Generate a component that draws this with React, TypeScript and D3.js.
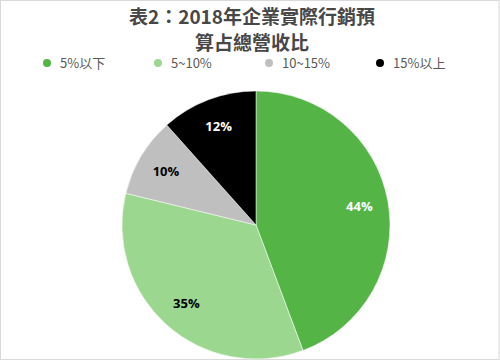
import React, { useEffect, useRef } from 'react';
import * as d3 from 'd3';

const categories = ['5%以下', '5~10%', '10~15%', '15%以上'];
const shares = [44.3, 34.5, 9.6, 11.6];
const labels = ['44%', '35%', '10%', '12%'];
const colors = ['#54b445', '#9cd78f', '#bfbfbf', '#000000'];
const labelColors = ['#ffffff', '#000000', '#000000', '#ffffff'];
const titleLines = ['表2：2018年企業實際行銷預', '算占總營收比'];

const App: React.FC = () => {
  const svgRef = useRef<SVGSVGElement>(null);

  useEffect(() => {
    if (!svgRef.current) return;
    const svg = d3.select(svgRef.current);
    svg.selectAll('*').remove();

    const width = 500;
    const height = 362;
    const cx = 256;
    const cy = 225;
    const radius = 134;
    const font = '"Noto Sans CJK TC", "Noto Sans", sans-serif';

    svg.append('rect')
      .attr('width', width)
      .attr('height', height)
      .attr('fill', '#ffffff');

    svg.append('rect')
      .attr('x', 0.5)
      .attr('y', 0.5)
      .attr('width', width - 1.5)
      .attr('height', 359)
      .attr('fill', 'none')
      .attr('stroke', '#d9d9d9');

    // Title
    svg.selectAll('text.title')
      .data(titleLines)
      .enter()
      .append('text')
      .attr('class', 'title')
      .attr('x', 252)
      .attr('y', (_, i) => 24 + i * 26)
      .attr('text-anchor', 'middle')
      .attr('font-family', font)
      .attr('font-weight', 'bold')
      .attr('font-size', 19)
      .attr('fill', '#474747')
      .text(d => d);

    // Legend
    const legendX = d3.scalePoint<string>()
      .domain(categories)
      .range([47, 380]);

    const legend = svg.selectAll('g.legend')
      .data(categories)
      .enter()
      .append('g')
      .attr('class', 'legend')
      .attr('transform', d => `translate(${legendX(d)},63)`);

    legend.append('circle')
      .attr('r', 4)
      .attr('fill', (_, i) => colors[i]);

    legend.append('text')
      .attr('x', 13)
      .attr('dy', '0.36em')
      .attr('font-family', font)
      .attr('font-size', 13)
      .attr('fill', '#595959')
      .text(d => d);

    // Pie
    const pie = d3.pie<number>().sort(null).value(d => d);
    const arcs = pie(shares);
    const arc = d3.arc<d3.PieArcDatum<number>>().innerRadius(0).outerRadius(radius);
    const labelArc = d3.arc<d3.PieArcDatum<number>>().innerRadius(105).outerRadius(105);

    const g = svg.append('g').attr('transform', `translate(${cx},${cy})`);

    g.selectAll('path')
      .data(arcs)
      .enter()
      .append('path')
      .attr('d', arc)
      .attr('fill', (_, i) => colors[i])
      .attr('stroke', '#ffffff')
      .attr('stroke-width', 0.5);

    g.selectAll('text')
      .data(arcs)
      .enter()
      .append('text')
      .attr('transform', d => `translate(${labelArc.centroid(d)})`)
      .attr('text-anchor', 'middle')
      .attr('dy', '0.35em')
      .attr('font-family', '"Open Sans", sans-serif')
      .attr('font-weight', 'bold')
      .attr('font-size', 13)
      .attr('fill', (_, i) => labelColors[i])
      .text((_, i) => labels[i]);
  }, []);

  return (
    <div style={{ position: 'fixed', left: 0, top: 0, width: 500, height: 362 }}>
      <svg ref={svgRef} width={500} height={362} style={{ display: 'block' }}></svg>
    </div>
  );
};

export default App;
